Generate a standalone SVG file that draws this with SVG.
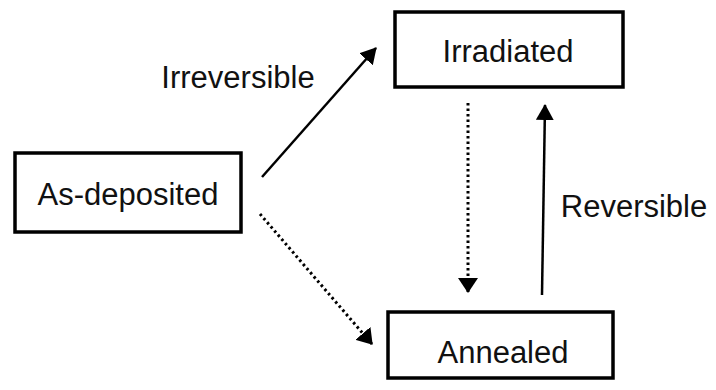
<svg xmlns="http://www.w3.org/2000/svg" width="716" height="390" viewBox="0 0 716 390">
<style>
.box{fill:#fff;stroke:#000;stroke-width:3.5}
.t{font-family:"Liberation Sans",Arial,sans-serif;font-size:31px;fill:#111;text-anchor:middle}
.solid{stroke:#000;stroke-width:2.5;fill:none}
.dot{stroke:#000;stroke-width:3;fill:none;stroke-dasharray:2.5 3}
</style>
<defs>
<marker id="ah" viewBox="0 0 16 18" refX="15" refY="9" markerWidth="16" markerHeight="18" markerUnits="userSpaceOnUse" orient="auto">
<path d="M0,0 L16,9 L0,18 z" fill="#000"/>
</marker>
<marker id="ahd" viewBox="0 0 15 20" refX="14" refY="10" markerWidth="15" markerHeight="20" markerUnits="userSpaceOnUse" orient="auto">
<path d="M0,0 L15,10 L0,20 z" fill="#000"/>
</marker>
</defs>
<g id="connectors">
<line class="solid" x1="262" y1="177" x2="376" y2="48" marker-end="url(#ah)"/>
<line class="dot" x1="260" y1="214" x2="372" y2="344" marker-end="url(#ahd)"/>
<line class="dot" x1="468" y1="103" x2="468" y2="292" marker-end="url(#ahd)"/>
<line class="solid" x1="542" y1="295" x2="545" y2="105" marker-end="url(#ah)"/>
<text class="t" x="238" y="88">Irreversible</text>
<text class="t" x="634" y="217">Reversible</text>
</g>
<g id="as-deposited">
<rect class="box" x="15" y="153" width="226" height="79"/>
<text class="t" x="128" y="205">As-deposited</text>
</g>
<g id="irradiated">
<rect class="box" x="395" y="12" width="228" height="75"/>
<text class="t" x="508" y="62">Irradiated</text>
</g>
<g id="annealed">
<rect class="box" x="388" y="312" width="225" height="66"/>
<text class="t" x="503" y="363">Annealed</text>
</g>
</svg>
